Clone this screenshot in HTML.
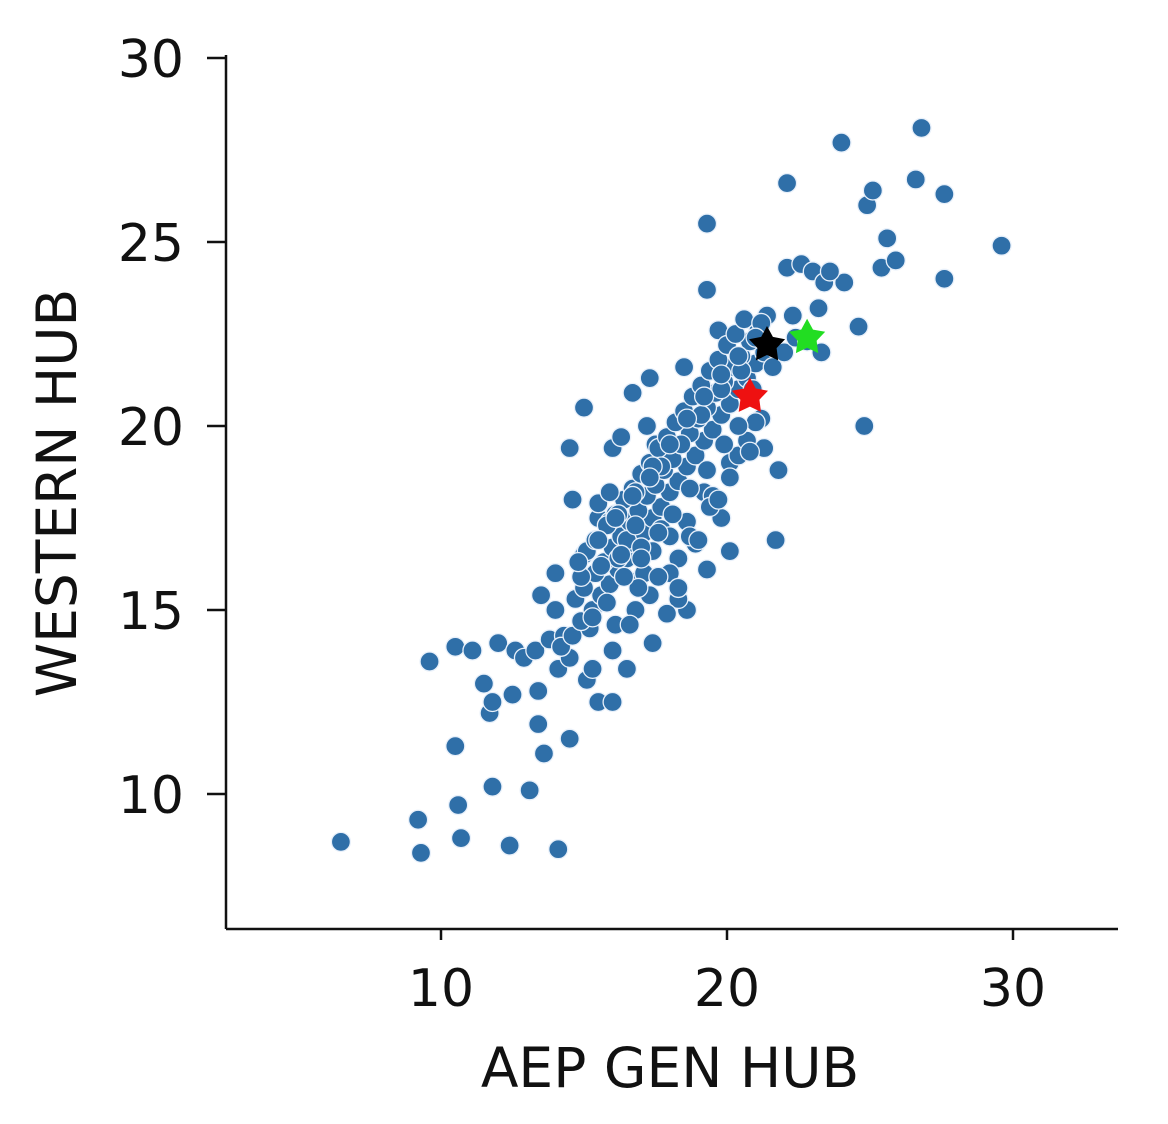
<!DOCTYPE html>
<html><head><meta charset="utf-8">
<style>
html,body{margin:0;padding:0;background:#fff;}
svg{display:block;}
text{font-family:"DejaVu Sans","Liberation Sans",sans-serif;fill:#111;}
</style></head>
<body>
<svg id="chart" width="1168" height="1124"></svg>
<script>
const xs = [6.5,9.2,9.3,9.6,10.5,10.6,10.7,10.5,11.1,11.5,11.7,11.8,11.8,12.0,12.4,12.5,12.6,12.9,13.1,13.3,13.4,13.4,13.6,14.1,14.5,13.5,13.8,14.0,14.1,14.3,14.5,14.0,14.6,14.5,15.0,15.1,15.5,15.2,15.0,15.5,
19.3,19.3,19.7,18.5,17.3,16.7,22.1,22.1,22.6,23.0,23.4,23.2,24.1,24.0,24.6,24.9,25.1,25.4,25.6,25.9,26.6,26.8,27.6,27.6,29.6,24.8,21.7,20.1,19.3,21.8,18.6,18.3,17.9,17.4,16.8,16.1,16.5,16.0,16.9,15.9,16.0,16.3,17.2,17.5,
14.2,14.6,14.9,15.3,15.6,15.9,16.2,16.5,16.8,17.1,17.4,17.7,18.0,18.3,18.6,18.9,19.2,19.5,19.8,20.1,20.4,20.7,21.0,21.3,
14.7,15.0,15.4,15.7,16.0,16.3,16.6,16.9,17.2,17.5,17.8,18.1,18.4,18.7,19.0,19.3,19.6,19.9,20.2,20.5,20.8,21.1,21.4,21.7,
15.1,15.4,15.8,16.1,16.4,16.7,17.0,17.3,17.6,17.9,18.2,18.5,18.8,19.1,19.4,19.7,20.0,20.3,20.6,20.9,21.2,21.6,22.0,22.4,
15.5,15.9,16.2,16.5,16.8,17.1,17.4,17.7,18.0,18.3,18.6,18.9,19.2,19.5,19.8,20.1,20.4,20.7,21.0,21.3,22.3,22.8,23.3,23.6,
14.9,15.6,16.3,17.0,17.7,18.4,19.1,19.8,20.5,21.2,16.6,17.3,18.0,18.7,19.4,20.1,20.8,15.3,16.0,16.9,17.6,18.3,19.0,19.7,
15.3,15.8,16.4,17.0,17.6,18.1,18.7,19.3,19.9,20.4,16.2,16.8,17.4,18.0,18.6,19.2,19.8,20.4,21.0,14.8,15.5,16.1,16.7,17.3];
const ys = [8.7,9.3,8.4,13.6,11.3,9.7,8.8,14.0,13.9,13.0,12.2,12.5,10.2,14.1,8.6,12.7,13.9,13.7,10.1,13.9,12.8,11.9,11.1,8.5,11.5,15.4,14.2,15.0,13.4,14.3,13.7,16.0,18.0,19.4,20.5,13.1,12.5,14.5,16.5,17.5,
25.5,23.7,22.6,21.6,21.3,20.9,26.6,24.3,24.4,24.2,23.9,23.2,23.9,27.7,22.7,26.0,26.4,24.3,25.1,24.5,26.7,28.1,26.3,24.0,24.9,20.0,16.9,16.6,16.1,18.8,15.0,15.3,14.9,14.1,15.0,14.6,13.4,12.5,15.8,17.4,19.4,19.7,20.0,19.5,
14.0,14.3,14.7,15.0,15.4,15.7,16.1,16.4,16.8,17.1,17.5,17.8,18.2,18.5,18.9,19.2,19.6,19.9,20.3,20.6,21.0,21.3,21.7,22.0,
15.3,15.6,16.0,16.3,16.7,17.0,17.4,17.7,18.1,18.4,18.8,19.1,19.5,19.8,20.2,20.5,20.9,21.2,21.6,21.9,22.3,22.6,23.0,22.1,
16.6,16.9,17.3,17.6,18.0,18.3,18.7,19.0,19.4,19.7,20.1,20.4,20.8,21.1,21.5,21.8,22.2,22.5,22.9,21.0,20.2,21.6,22.0,22.4,
17.9,18.2,16.4,16.9,17.3,16.0,16.6,17.2,17.0,16.4,17.4,16.8,18.2,18.1,17.5,19.0,19.2,19.6,20.1,19.4,23.0,22.3,22.0,24.2,
15.9,16.2,16.5,16.7,18.9,19.5,20.3,21.0,21.5,22.8,14.6,15.4,16.0,17.0,17.8,18.6,19.3,13.4,13.9,15.6,15.9,15.6,16.9,18.0,
14.8,15.2,15.9,16.4,17.1,17.6,18.3,18.8,19.5,20.0,17.6,18.2,18.9,19.5,20.2,20.8,21.4,21.9,22.4,16.3,16.9,17.5,18.1,18.6];
const starX = [21.4,22.8,20.8];
const starY = [22.2,22.4,20.8];
const starColors = ['#000000','#22dd22','#ee1111'];
const xTicks = [10,20,30];
const yTicks = [10,15,20,25,30];

const NS='http://www.w3.org/2000/svg';
const svg=document.getElementById('chart');
const X=v=>441+(v-10)*28.6;
const Y=v=>58+(30-v)*36.8;
function mk(t,a){const e=document.createElementNS(NS,t);for(const k in a)e.setAttribute(k,a[k]);svg.appendChild(e);return e;}

const g=document.createElementNS(NS,'g');


svg.appendChild(g);
for(let i=0;i<xs.length;i++){
  const c=document.createElementNS(NS,'circle');
  c.setAttribute('cx',X(xs[i]));c.setAttribute('cy',Y(ys[i]));c.setAttribute('r',9.5);
  c.setAttribute('fill','#2f6fa8');c.setAttribute('stroke','#e8f0fa');c.setAttribute('stroke-width',1.3);
  
  
  g.appendChild(c);
}
function starPath(cx,cy,R,r){let d='';for(let k=0;k<10;k++){const a=-Math.PI/2+k*Math.PI/5;const rr=k%2?r:R;d+=(k?'L':'M')+(cx+rr*Math.cos(a)).toFixed(1)+','+(cy+rr*Math.sin(a)).toFixed(1);}return d+'Z';}
for(let i=0;i<starX.length;i++){
  const s=mk('path',{d:starPath(X(starX[i]),Y(starY[i]),19,10),fill:starColors[i]});
  
  
}
const ax=mk('line',{x1:226,y1:929,x2:1118,y2:929,stroke:'#111','stroke-width':2.5});


const ay=mk('line',{x1:226,y1:55,x2:226,y2:929,stroke:'#111','stroke-width':2.5});


for(const t of xTicks){
  mk('line',{x1:X(t),y1:929,x2:X(t),y2:940,stroke:'#111','stroke-width':2.5});
  const tx=mk('text',{x:X(t),y:1006,'text-anchor':'middle','font-size':52});
  tx.textContent=t;
  
  
}
for(const t of yTicks){
  mk('line',{x1:207,y1:Y(t),x2:226,y2:Y(t),stroke:'#111','stroke-width':2.5});
  const tx=mk('text',{x:184,y:Y(t)+19,'text-anchor':'end','font-size':52});
  tx.textContent=t;
  
  
}
const xt=mk('text',{x:670,y:1087,'text-anchor':'middle','font-size':55});
xt.textContent='AEP GEN HUB';


const yt=mk('text',{x:0,y:0,'text-anchor':'middle','font-size':55,transform:'translate(76,493) rotate(-90)'});
yt.textContent='WESTERN HUB';


</script>
</body></html>
